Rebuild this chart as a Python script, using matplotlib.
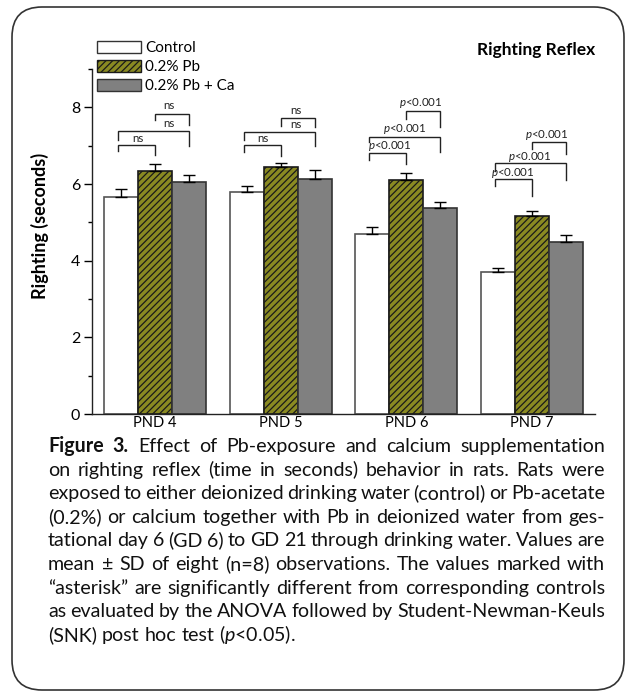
import matplotlib
matplotlib.use('Agg')
import matplotlib.pyplot as plt
from matplotlib.patches import Patch, FancyBboxPatch
from matplotlib.transforms import IdentityTransform
import numpy as np

FONT = 'Lato'
plt.rcParams['font.family'] = [FONT, 'DejaVu Sans']
plt.rcParams['mathtext.fontset'] = 'custom'
plt.rcParams['mathtext.it'] = FONT + ':italic'
plt.rcParams['mathtext.rm'] = FONT
plt.rcParams['hatch.linewidth'] = 0.9

# ---------------- data ----------------
categories = ['PND 4', 'PND 5', 'PND 6', 'PND 7']
series_names = ['Control', '0.2% Pb', '0.2% Pb + Ca']
control_mean = [5.66, 5.80, 4.69, 3.71]
control_sd = [0.21, 0.16, 0.18, 0.11]
pb_mean = [6.35, 6.44, 6.11, 5.16]
pb_sd = [0.17, 0.11, 0.19, 0.13]
pbca_mean = [6.04, 6.14, 5.38, 4.49]
pbca_sd = [0.19, 0.22, 0.16, 0.19]

# significance brackets
bracket_groups = [0, 0, 0, 1, 1, 1, 2, 2, 2, 3, 3, 3]
bracket_pairs = [(0, 1), (0, 2), (1, 2)] * 4
bracket_labels = ['ns'] * 6 + ['$p$<0.001'] * 6
bracket_y = [7.03, 7.38, 7.83, 7.01, 7.35, 7.72, 6.81, 7.22, 7.90, 6.13, 6.54, 7.09]
bracket_leg_a = [6.87, 7.16, 7.68, 6.83, 7.16, 7.52, 6.62, 7.10, 7.70, 5.94, 6.35, 6.91]
bracket_leg_b = [6.76, 7.00, 7.54, 6.72, 7.00, 7.48, 6.51, 6.84, 7.48, 5.68, 6.10, 6.78]
label_dx = [-0.137, 0.112, 0.112, -0.143, 0.122, 0.122, -0.13, -0.011, 0.116, -0.152, -0.017, 0.118]
label_y = [7.20, 7.59, 8.04, 7.18, 7.55, 7.91, 7.00, 7.44, 8.11, 6.29, 6.71, 7.28]

caption_lines = [
    "Figure 3. Effect of Pb-exposure and calcium supplementation",
    "on righting reflex (time in seconds) behavior in rats. Rats were",
    "exposed to either deionized drinking water (control) or Pb-acetate",
    "(0.2%) or calcium together with Pb in deionized water from ges-",
    "tational day 6 (GD 6) to GD 21 through drinking water. Values are",
    "mean \u00b1 SD of eight (n=8) observations. The values marked with",
    "\u201casterisk\u201d are significantly different from corresponding controls",
    "as evaluated by the ANOVA followed by Student-Newman-Keuls",
    "(SNK) post hoc test ($p$<0.05).",
]

# ---------------- figure ----------------
W, H = 632, 700
fig = plt.figure(figsize=(W / 100, H / 100), dpi=100)
ax = fig.add_axes([92 / W, 1 - 414 / H, 503 / W, 345 / H])

x = np.arange(len(categories))
w = 0.27
zeros = np.zeros(len(categories))
ekw = dict(ecolor='black', elinewidth=1.0, capsize=4, capthick=1.0)
ax.bar(x - w, control_mean, w, yerr=[zeros, control_sd], facecolor='white',
       edgecolor='#555555', linewidth=1.2, error_kw=ekw, zorder=2)
ax.bar(x, pb_mean, w, yerr=[zeros, pb_sd], facecolor='#8a8a22',
       edgecolor='#1a1a1a', hatch='/////', linewidth=1.2, error_kw=ekw, zorder=2)
ax.bar(x + w, pbca_mean, w, yerr=[zeros, pbca_sd], facecolor='#808080',
       edgecolor='#333333', linewidth=1.2, error_kw=ekw, zorder=2)

# brackets
offs = [-w, 0, w]
for g, (a, b), lab, yy, la, lb, dx, ly in zip(bracket_groups, bracket_pairs, bracket_labels,
                                               bracket_y, bracket_leg_a, bracket_leg_b,
                                               label_dx, label_y):
    xa = g + offs[a] - (0.025 if a == 0 else 0)
    xb = g + offs[b]
    ax.plot([xa, xa, xb, xb], [la, yy, yy, lb], color='#222222', lw=1.0,
            solid_joinstyle='miter', zorder=3)
    ax.text(g + dx, ly, lab, ha='center', va='center', fontsize=8.3, color='#222222')

ax.set_xlim(-0.5, 3.5)
ax.set_ylim(0, 9)
ax.set_yticks([0, 2, 4, 6, 8])
ax.set_yticks([1, 3, 5, 7, 9], minor=True)
ax.tick_params(axis='y', which='major', direction='out', length=5.5, width=1,
               labelsize=11.5, pad=3)
ax.tick_params(axis='y', which='minor', direction='out', length=3, width=1)
ax.set_xticks(x)
ax.set_xticklabels(categories)
ax.tick_params(axis='x', length=0, labelsize=10.5, pad=1.5)
for s in ['top', 'right']:
    ax.spines[s].set_visible(False)
for s in ['left', 'bottom']:
    ax.spines[s].set_linewidth(1.0)
    ax.spines[s].set_color('#222222')

ax.set_ylabel('Righting (seconds)', fontsize=13, fontweight='bold', va='center')
ax.yaxis.set_label_coords((40 - 92) / 503, (414 - 226) / 345)

# title
fig.text(595 / W, 1 - 50 / H, 'Righting Reflex', fontsize=12.5, fontweight='bold',
         ha='right', va='center')

# legend
handles = [
    Patch(facecolor='white', edgecolor='#333333', linewidth=1.0),
    Patch(facecolor='#8a8a22', edgecolor='#1a1a1a', hatch='/////', linewidth=1.0),
    Patch(facecolor='#808080', edgecolor='#333333', linewidth=1.0),
]
fig.legend(handles, series_names, loc='upper left',
           bbox_to_anchor=(97 / W, 1 - 41 / H), frameon=False, fontsize=11,
           handlelength=2.9, handleheight=0.85, handletextpad=0.25,
           labelspacing=0.3, borderpad=0, borderaxespad=0)

# rounded border
box = FancyBboxPatch((12, H - 690), 612, 683,
                     boxstyle='round,pad=0,rounding_size=30',
                     transform=IdentityTransform(), facecolor='none',
                     edgecolor='#333333', linewidth=1.2)
fig.add_artist(box)

# justified caption
renderer = fig.canvas.get_renderer()
x0, x1 = 48, 605
y_first = 452
pitch = 23.6
cap_fs = 12.0

def word_width(t, bold, fs):
    tt = fig.text(0, 0, t, fontsize=fs, fontweight='bold' if bold else 'normal')
    wd = tt.get_window_extent(renderer).width
    tt.remove()
    return wd

space_w = word_width('a a', False, cap_fs) - word_width('aa', False, cap_fs)
max_nat = 0
for i, line in enumerate(caption_lines[:-1]):
    words = line.split(' ')
    tot = sum(word_width(wd, i == 0 and j < 2, cap_fs) for j, wd in enumerate(words))
    nat = tot + space_w * 0.8 * (len(words) - 1)
    max_nat = max(max_nat, nat)
cap_fs = cap_fs * (x1 - x0) / max_nat

for i, line in enumerate(caption_lines):
    words = line.split(' ')
    bolds = [i == 0 and j < 2 for j in range(len(words))]
    widths = [word_width(wd, b, cap_fs) for wd, b in zip(words, bolds)]
    if i < len(caption_lines) - 1:
        gap = (x1 - x0 - sum(widths)) / (len(words) - 1)
    else:
        gap = word_width('a a', False, cap_fs) - word_width('aa', False, cap_fs)
    xp = x0
    yb = y_first + i * pitch
    for wd, b, wdt in zip(words, bolds, widths):
        fig.text(xp / W, 1 - yb / H, wd, fontsize=cap_fs,
                 fontweight='bold' if b else 'normal', ha='left', va='baseline',
                 color='#111111')
        xp += wdt + gap

fig.savefig('out.png', dpi=100)
